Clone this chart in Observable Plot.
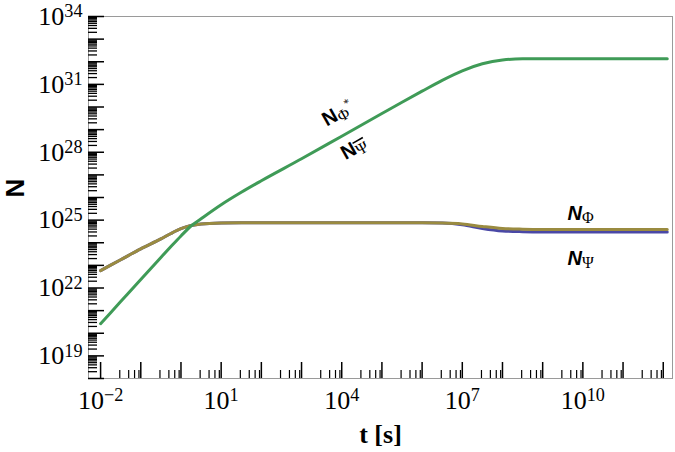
<!DOCTYPE html>
<html><head><meta charset="utf-8">
<script src="https://cdn.jsdelivr.net/npm/d3@7"></script>
<script src="https://cdn.jsdelivr.net/npm/@observablehq/plot@0.6"></script>
<style>body{margin:0;background:#fff} #chart svg{display:block}</style>
</head><body><div id="chart"></div>
<script>
// log10 of time t [s]
const tExp = [-2,-1.5,-1,-0.5,-0.25,0,0.25,0.5,1,1.5,2,3,4,5,5.5,6,6.5,7,7.5,8,8.5,9,10,11,12.1];
// log10 of N for each curve
const greenExp = [20.42,21.4,22.38,23.35,23.83,24.3,24.74,25.06,25.68,26.23,26.74,27.71,28.71,29.71,30.21,30.7,31.18,31.6,31.91,32.08,32.13,32.13,32.13,32.13,32.13];
const goldExp  = [22.77,23.25,23.73,24.17,24.41,24.62,24.76,24.83,24.87,24.88,24.88,24.88,24.88,24.88,24.88,24.88,24.87,24.83,24.72,24.63,24.6,24.59,24.59,24.59,24.59];
const blueExp  = [22.77,23.25,23.73,24.17,24.41,24.62,24.76,24.83,24.87,24.88,24.88,24.88,24.88,24.88,24.88,24.88,24.87,24.80,24.63,24.52,24.49,24.48,24.48,24.48,24.48];

const xLabelExp = [-2,1,4,7,10];
const yLabelExp = [19,22,25,28,31,34];
const xDecades = d3.range(-2, 13);
const yDecades = d3.range(18, 35);
const xMinorMult = [3,5,7,9];
const yMinorMult = [2,3,4,5,6,7,8,9];

// curve annotations
const annotations = [
  {key:"A", main:"N", sub:"Φ", sup:"*", bar:false, tx:3.9, ny:29.72, rot:-29.5, anchor:"middle", italic:false},
  {key:"B", main:"N", sub:"Ψ", sup:"",  bar:true,  tx:4.3, ny:28.18, rot:-29.5, anchor:"middle", italic:false},
  {key:"C", main:"N", sub:"Φ", sup:"",  bar:false, tx:9.62, ny:25.29, rot:0, anchor:"start", italic:true},
  {key:"D", main:"N", sub:"Ψ", sup:"",  bar:false, tx:9.62, ny:23.30, rot:0, anchor:"start", italic:true}
];

const colors = {green:"#3f9b57", gold:"#9a8b40", blue:"#4a48a6"};

const mk = (arr) => tExp.map((e,i) => ({t: 10**e, N: 10**arr[i]}));
const green = mk(greenExp), gold = mk(goldExp), blue = mk(blueExp);

const xMinor = [], yMinor = [];
xDecades.forEach(d => xMinorMult.forEach(m => { const v = m*10**d; if (v < 1.7e12) xMinor.push(v); }));
yDecades.slice(0,-1).forEach(d => yMinorMult.forEach(m => yMinor.push(m*10**d)));

const serif = "'Liberation Serif','Times New Roman',serif";
const sans = "'Liberation Sans',Arial,sans-serif";

const chart = Plot.plot({
  width: 675, height: 452,
  marginLeft: 88, marginRight: 3, marginTop: 16, marginBottom: 74,
  x: {type: "log", domain: [0.005, 1.7e12]},
  y: {type: "log", domain: [1e18, 1e34]},
  style: {background: "white", fontFamily: serif},
  marks: [
    Plot.frame({stroke: "#9a9a9a"}),
    Plot.axisX(xMinor, {tickSize: -8, tickFormat: () => "", label: null, stroke: "black", strokeWidth: 1.2}),
    Plot.axisX(xDecades.map(d => 10**d), {tickSize: -16, tickFormat: () => "", label: null, stroke: "black", strokeWidth: 1.5}),
    Plot.axisX(xLabelExp.map(d => 10**d), {tickSize: 0, tickPadding: 12, fontSize: 26, fontFamily: serif, fill: "black",
      tickFormat: v => "10^" + String(Math.round(Math.log10(v))).replace("-", "−"), label: null}),
    Plot.axisY(yMinor, {tickSize: -9, tickFormat: () => "", label: null, stroke: "black", strokeWidth: 1.3}),
    Plot.axisY(yDecades.map(d => 10**d), {tickSize: -16, tickFormat: () => "", label: null, stroke: "black", strokeWidth: 1.5}),
    Plot.axisY(yLabelExp.map(d => 10**d), {tickSize: 0, tickPadding: 6, fontSize: 26, fontFamily: serif, fill: "black",
      tickFormat: v => "10^" + Math.round(Math.log10(v)), label: null}),
    Plot.line(blue, {x: "t", y: "N", stroke: colors.blue, strokeWidth: 3, curve: "monotone-x"}),
    Plot.line(gold, {x: "t", y: "N", stroke: colors.gold, strokeWidth: 3, curve: "monotone-x"}),
    Plot.line(green, {x: "t", y: "N", stroke: colors.green, strokeWidth: 3, curve: "monotone-x"}),
    ...annotations.map(a => Plot.text([a], {x: d => 10**d.tx, y: d => 10**d.ny, text: d => "@" + d.key,
      rotate: a.rot, textAnchor: a.anchor, fontSize: 20, fill: "black"})),
    Plot.text(["t [s]"], {frameAnchor: "bottom", dy: 64, lineAnchor: "bottom", fontSize: 26, fontWeight: "bold", fontFamily: serif, fill: "black"}),
    Plot.text(["N"], {frameAnchor: "left", dx: -73, rotate: -90, fontSize: 26, fontWeight: "bold", fontFamily: sans, fill: "black"})
  ]
});

const ns = "http://www.w3.org/2000/svg";
chart.querySelectorAll("text").forEach(t => {
  const s = t.textContent;
  const m = /^10\^(.+)$/.exec(s);
  if (m) {
    t.textContent = "10";
    const ts = document.createElementNS(ns, "tspan");
    ts.setAttribute("dy", "-0.42em");
    ts.setAttribute("font-size", "0.7em");
    ts.textContent = m[1];
    t.appendChild(ts);
    return;
  }
  const a = annotations.find(a => "@" + a.key === s);
  if (a) {
    t.textContent = "";
    const n = document.createElementNS(ns, "tspan");
    n.textContent = a.main;
    n.setAttribute("font-family", sans);
    n.setAttribute("font-weight", "bold");
    if (a.italic) n.setAttribute("font-style", "italic");
    t.appendChild(n);
    const sb = document.createElementNS(ns, "tspan");
    sb.textContent = a.sub;
    sb.setAttribute("font-family", serif);
    sb.setAttribute("font-size", "16");
    sb.setAttribute("dy", "3");
    if (a.bar) sb.setAttribute("text-decoration", "overline");
    t.appendChild(sb);
    if (a.sup) {
      const sp = document.createElementNS(ns, "tspan");
      sp.textContent = a.sup;
      sp.setAttribute("font-family", serif);
      sp.setAttribute("font-size", "12");
      sp.setAttribute("dy", "-10");
      t.appendChild(sp);
    }
  }
});
document.getElementById("chart").appendChild(chart);
</script>
</body></html>
